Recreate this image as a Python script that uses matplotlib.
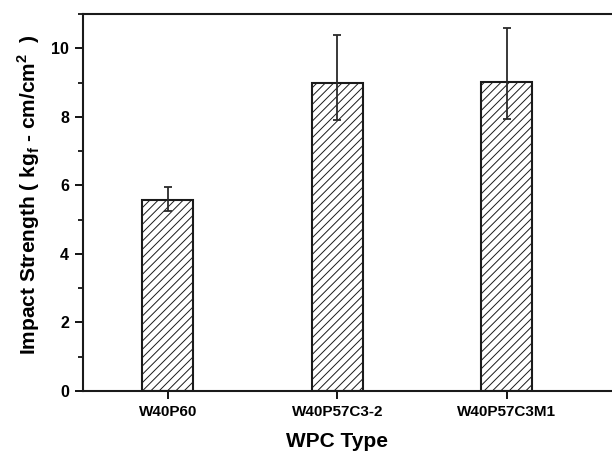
import matplotlib
matplotlib.use("Agg")
import matplotlib.pyplot as plt
from matplotlib.ticker import MultipleLocator

# values
categories = ["W40P60", "W40P57C3-2", "W40P57C3M1"]
strength = [5.56, 9.0, 9.03]
err_low = [0.30, 1.10, 1.10]
err_high = [0.40, 1.40, 1.56]

plt.rcParams["font.family"] = ["Liberation Sans", "DejaVu Sans"]
plt.rcParams["hatch.linewidth"] = 0.7
plt.rcParams["mathtext.fontset"] = "custom"
plt.rcParams["mathtext.bf"] = "Liberation Sans:bold"
plt.rcParams["mathtext.rm"] = "Liberation Sans:bold"

fig = plt.figure(figsize=(6.12, 4.53), dpi=100)
ax = fig.add_axes([0.1356, 0.1369, 0.8644, 0.832])

x = range(len(categories))
ax.bar(x, strength, width=0.3, facecolor="white", edgecolor="#1a1a1a",
       linewidth=1.5, hatch="////", zorder=2)
ax.errorbar(x, strength, yerr=[err_low, err_high], fmt="none",
            ecolor="#2a2a2a", elinewidth=1.3, capsize=3, capthick=1.3, zorder=3)

ax.set_xlim(-0.5, 2.62)
ax.set_ylim(0, 11)
ax.set_xticks(list(x))
ax.set_xticklabels(categories, fontsize=11, fontweight="bold")
ax.yaxis.set_major_locator(MultipleLocator(2))
ax.yaxis.set_minor_locator(MultipleLocator(1))
for lab in ax.get_yticklabels():
    lab.set_fontsize(11.5)
    lab.set_fontweight("bold")
ax.tick_params(axis="both", which="major", direction="out", length=6, width=1.3, pad=4)
ax.tick_params(axis="y", which="minor", direction="out", length=3.5, width=1.2)

for side in ["left", "bottom", "top"]:
    ax.spines[side].set_linewidth(1.5)
    ax.spines[side].set_color("#1a1a1a")
ax.spines["right"].set_visible(False)

ax.set_xlabel("WPC Type", fontsize=15, fontweight="bold")
ax.xaxis.set_label_coords(0.48, -0.108)
ax.set_ylabel(r"Impact Strength ( kg$_\mathrm{f}$ - cm/cm$^\mathrm{2}$  )", fontsize=15,
              fontweight="bold")
ax.yaxis.set_label_coords(-0.078, 0.52)

fig.savefig("out.png", dpi=100, facecolor="white")
